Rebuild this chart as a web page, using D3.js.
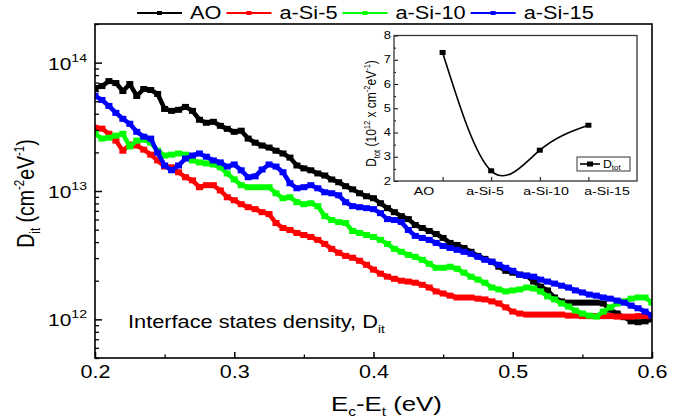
<!DOCTYPE html>
<html>
<head>
<meta charset="utf-8">
<script src="https://cdn.jsdelivr.net/npm/d3@7"></script>
<style>
  body { margin: 0; background: #fff; }
  svg text { font-family: "Liberation Sans", Arial, sans-serif; fill: #000; }
</style>
</head>
<body>
<div id="chart"></div>
<script>
// trap level below the conduction band, eV
var energy = [0.200, 0.205, 0.210, 0.215, 0.220, 0.225, 0.230, 0.235, 0.240, 0.245,
              0.250, 0.255, 0.260, 0.265, 0.270, 0.275, 0.280, 0.285, 0.290, 0.295,
              0.300, 0.305, 0.310, 0.315, 0.320, 0.325, 0.330, 0.335, 0.340, 0.345,
              0.350, 0.355, 0.360, 0.365, 0.370, 0.375, 0.380, 0.385, 0.390, 0.395,
              0.400, 0.405, 0.410, 0.415, 0.420, 0.425, 0.430, 0.435, 0.440, 0.445,
              0.450, 0.455, 0.460, 0.465, 0.470, 0.475, 0.480, 0.485, 0.490, 0.495,
              0.500, 0.505, 0.510, 0.515, 0.520, 0.525, 0.530, 0.535, 0.540, 0.545,
              0.550, 0.555, 0.560, 0.565, 0.570, 0.575, 0.580, 0.585, 0.590, 0.595, 0.600];

// D_it, in units of 1e12 cm^-2 eV^-1
var dAO = [63.4, 65.7, 71.8, 69.3, 60.1, 68.1, 55.0, 62.3, 61.2, 57.0,
           43.6, 42.1, 42.9, 45.2, 42.1, 35.9, 34.0, 34.6, 32.2, 30.5,
           28.9, 29.5, 25.6, 23.8, 22.6, 21.8, 20.6, 19.6, 18.2, 15.8,
           15.0, 14.5, 13.7, 13.2, 12.3, 11.7, 10.9, 10.3, 9.6, 9.1,
           8.78, 8.03, 7.35, 6.84, 6.37, 6.04, 5.43, 5.15, 4.88, 4.62,
           4.31, 3.94, 3.80, 3.60, 3.36, 3.12, 2.96, 2.81, 2.57, 2.39,
           2.31, 2.23, 2.19, 1.97, 1.80, 1.68, 1.48, 1.38, 1.35, 1.35,
           1.35, 1.35, 1.35, 1.33, 1.19, 1.11, 1.04, 0.965, 0.95, 0.965, 1.0];
var dSi5 = [31.1, 30.6, 27.9, 24.7, 20.6, 23.0, 22.6, 21.0, 19.2, 17.3,
            15.5, 15.3, 14.0, 12.8, 12.1, 10.7, 11.1, 11.1, 10.1, 8.94,
            8.47, 7.89, 7.48, 7.22, 6.84, 6.61, 5.63, 5.15, 4.97, 4.71,
            4.54, 4.38, 4.16, 3.87, 3.54, 3.30, 3.12, 3.02, 2.86, 2.66,
            2.44, 2.27, 2.15, 2.07, 2.00, 1.97, 1.93, 1.86, 1.77, 1.65,
            1.59, 1.53, 1.48, 1.48, 1.48, 1.45, 1.43, 1.38, 1.33, 1.24,
            1.15, 1.11, 1.09, 1.09, 1.09, 1.09, 1.09, 1.09, 1.07, 1.07,
            1.06, 1.06, 1.06, 1.06, 1.06, 1.05, 1.05, 1.05, 1.06, 1.06, 1.06];
var dSi10 = [27.9, 25.6, 26.0, 27.0, 27.9, 22.2, 24.7, 25.1, 23.8, 20.6,
             18.9, 19.2, 19.6, 19.2, 17.3, 16.7, 16.4, 16.1, 15.3, 13.7,
             12.3, 11.1, 10.7, 10.7, 10.7, 10.7, 9.6, 8.78, 8.94, 8.18,
             7.89, 8.03, 7.62, 6.37, 5.94, 5.73, 5.63, 4.88, 4.71, 4.54,
             4.38, 4.16, 3.87, 3.54, 3.36, 3.18, 3.07, 2.91, 2.71, 2.52,
             2.52, 2.57, 2.48, 2.31, 2.15, 2.04, 1.93, 1.77, 1.71, 1.65,
             1.68, 1.71, 1.77, 1.74, 1.65, 1.51, 1.43, 1.33, 1.26, 1.17,
             1.11, 1.07, 1.05, 1.15, 1.24, 1.33, 1.38, 1.45, 1.48, 1.48, 1.35];
var dSi15 = [55.0, 51.2, 46.0, 40.6, 36.5, 33.4, 28.9, 26.5, 25.6, 19.9,
             15.8, 14.5, 15.8, 17.9, 18.9, 19.6, 18.5, 17.3, 16.7, 15.5,
             16.1, 14.5, 12.8, 13.0, 14.7, 16.1, 15.5, 14.0, 11.5, 10.5,
             10.7, 11.1, 10.5, 9.77, 9.6, 9.26, 8.18, 7.62, 7.48, 7.35,
             7.22, 6.72, 6.04, 5.94, 5.73, 4.97, 4.47, 4.31, 4.16, 3.94,
             3.73, 3.60, 3.48, 3.36, 3.24, 3.07, 2.91, 2.81, 2.66, 2.52,
             2.39, 2.23, 2.19, 2.15, 2.04, 1.97, 1.90, 1.83, 1.77, 1.68,
             1.62, 1.56, 1.53, 1.48, 1.45, 1.40, 1.35, 1.28, 1.22, 1.15, 1.07];

var seriesNames = ['AO', 'a-Si-5', 'a-Si-10', 'a-Si-15'];
var seriesColors = ['#000000', '#ff0000', '#00ff00', '#0000ff'];

var xTicks = [0.2, 0.3, 0.4, 0.5, 0.6];
var xMinorTicks = [0.25, 0.35, 0.45, 0.55];
var yTicks = [1, 10, 100];
var yTickExps = ['12', '13', '14'];
var yMinorTicks = [0.5, 0.6, 0.7, 0.8, 0.9, 2, 3, 4, 5, 6, 7, 8, 9,
                   20, 30, 40, 50, 60, 70, 80, 90, 200];

// inset: total trap density, 1e12 cm^-2 eV^-1
var insetSamples = ['AO', 'a-Si-5', 'a-Si-10', 'a-Si-15'];
var insetDtot = [7.3, 2.42, 3.27, 4.3];
var insetYTicks = [2, 3, 4, 5, 6, 7, 8];
var insetYMinor = [2.5, 3.5, 4.5, 5.5, 6.5, 7.5];

var W = 681, H = 420;
var SX = 1.23;   // text in the figure is stretched sideways
var plot = {left: 95, right: 652, top: 24, bottom: 358};
var inset = {left: 394, right: 637, top: 35.5, bottom: 181};

var svg = d3.select('#chart').append('svg')
    .attr('width', W)
    .attr('height', H);
svg.append('rect').attr('width', W).attr('height', H).attr('fill', '#fff');

var x = d3.scaleLinear().domain([0.2, 0.6]).range([plot.left, plot.right]);
var y = d3.scaleLog().domain([0.5, 200]).range([plot.bottom, plot.top]);

function wideText(parent, px, py, size, anchor) {
    return parent.append('text')
        .attr('x', px / SX)
        .attr('y', py)
        .attr('transform', 'scale(' + SX + ',1)')
        .attr('font-size', size)
        .attr('text-anchor', anchor || 'start');
}

function piece(t, str, size, dy) {
    var s = t.append('tspan').text(str);
    if (size) s.attr('font-size', size);
    if (dy) s.attr('dy', dy);
    return s;
}

// curves
svg.append('clipPath').attr('id', 'plotClip')
    .append('rect')
    .attr('x', plot.left).attr('y', plot.top)
    .attr('width', plot.right - plot.left)
    .attr('height', plot.bottom - plot.top);

var series = [dAO, dSi5, dSi10, dSi15].map(function (vals, k) {
    return {name: seriesNames[k], color: seriesColors[k], values: vals};
});

var line = d3.line()
    .x(function (d, i) { return x(energy[i]); })
    .y(function (d) { return y(d); });

var curves = svg.append('g').attr('clip-path', 'url(#plotClip)');
series.forEach(function (s) {
    var g = curves.append('g');
    g.append('path')
        .datum(s.values)
        .attr('d', line)
        .attr('fill', 'none')
        .attr('stroke', s.color)
        .attr('stroke-width', 4.5)
        .attr('stroke-linejoin', 'round');
    g.selectAll('rect')
        .data(s.values)
        .enter().append('rect')
        .attr('x', function (d, i) { return x(energy[i]) - 3.5; })
        .attr('y', function (d) { return y(d) - 3; })
        .attr('width', 7)
        .attr('height', 6)
        .attr('fill', s.color);
});

// axes, ticks pointing inward
function tidy(g, w) {
    g.select('.domain').remove();
    g.selectAll('.tick line').attr('stroke', '#000').attr('stroke-width', w);
}

var gx = svg.append('g')
    .attr('transform', 'translate(0,' + plot.bottom + ')')
    .call(d3.axisBottom(x).tickValues(xTicks).tickSize(-6).tickSizeOuter(0)
        .tickPadding(8).tickFormat(d3.format('.1f')));
tidy(gx, 1.5);
gx.selectAll('text')
    .attr('font-size', 17.5)
    .attr('fill', '#000')
    .attr('transform', 'scale(' + SX + ',1)');

var gxm = svg.append('g')
    .attr('transform', 'translate(0,' + plot.bottom + ')')
    .call(d3.axisBottom(x).tickValues(xMinorTicks).tickSize(-3.5).tickFormat(''));
tidy(gxm, 1.3);

var gy = svg.append('g')
    .attr('transform', 'translate(' + plot.left + ',0)')
    .call(d3.axisLeft(y).tickValues(yTicks).tickSize(-7).tickFormat(''));
tidy(gy, 1.5);
var gym = svg.append('g')
    .attr('transform', 'translate(' + plot.left + ',0)')
    .call(d3.axisLeft(y).tickValues(yMinorTicks).tickSize(-4).tickFormat(''));
tidy(gym, 1.3);

yTicks.forEach(function (v, k) {
    var t = wideText(svg, plot.left - 8, y(v) + 7, 17, 'end');
    piece(t, '10');
    piece(t, yTickExps[k], 11.5, -8);
});

svg.append('rect')
    .attr('x', plot.left).attr('y', plot.top)
    .attr('width', plot.right - plot.left)
    .attr('height', plot.bottom - plot.top)
    .attr('fill', 'none')
    .attr('stroke', '#000')
    .attr('stroke-width', 1.6);

// axis titles
var xt = wideText(svg, 331, 411, 21, 'start');
piece(xt, 'E');
piece(xt, 'c', 12.5, 5);
piece(xt, '-E', null, -5);
piece(xt, 't', 12.5, 5);
piece(xt, ' (eV)', null, -5);

var yt = svg.append('text')
    .attr('transform', 'translate(34,193.5) rotate(-90) scale(1,' + SX + ')')
    .attr('text-anchor', 'middle')
    .attr('font-size', 19.5);
piece(yt, 'D');
piece(yt, 'it', 11.5, 5);
piece(yt, ' (cm', null, -5);
piece(yt, '-2', 11.5, -8);
piece(yt, 'eV', null, 8);
piece(yt, '-1', 11.5, -8);
piece(yt, ')', null, 8);

// note
var note = wideText(svg, 128, 328, 17.7, 'start');
piece(note, 'Interface states density, D');
piece(note, 'it', 11, 5);

// legend on top
var legend = svg.append('g');
var lx = 137;
series.forEach(function (s) {
    legend.append('line')
        .attr('x1', lx).attr('x2', lx + 45)
        .attr('y1', 13).attr('y2', 13)
        .attr('stroke', s.color)
        .attr('stroke-width', 2.2);
    legend.append('rect')
        .attr('x', lx + 22.5 - 2.5).attr('y', 11)
        .attr('width', 5).attr('height', 4)
        .attr('fill', s.color);
    var t = wideText(legend, lx + 53, 19.5, 17.7, 'start').text(s.name);
    lx = lx + 53 + t.node().getComputedTextLength() * SX + 5;
});

// inset
var ix = d3.scalePoint().domain(insetSamples).range([inset.left, inset.right]).padding(1);
var ixLabel = d3.scalePoint().domain(insetSamples).range([424, 607]);
var iy = d3.scaleLinear().domain([2, 8]).range([inset.bottom, inset.top]);

svg.append('rect')
    .attr('x', inset.left).attr('y', inset.top)
    .attr('width', inset.right - inset.left)
    .attr('height', inset.bottom - inset.top)
    .attr('fill', '#fff');

var giy = svg.append('g')
    .attr('transform', 'translate(' + inset.left + ',0)')
    .call(d3.axisLeft(iy).tickValues(insetYTicks).tickSize(-4).tickFormat(''));
tidy(giy, 1);
var giym = svg.append('g')
    .attr('transform', 'translate(' + inset.left + ',0)')
    .call(d3.axisLeft(iy).tickValues(insetYMinor).tickSize(-2).tickFormat(''));
tidy(giym, 1);
var gix = svg.append('g')
    .attr('transform', 'translate(0,' + inset.bottom + ')')
    .call(d3.axisBottom(ix).tickSize(-4).tickFormat(''));
tidy(gix, 1);

insetYTicks.forEach(function (v) {
    wideText(svg, inset.left - 3, iy(v) + 3.7, 10.5, 'end').text(v);
});
insetSamples.forEach(function (s) {
    wideText(svg, ixLabel(s), 195, 11.5, 'middle').text(s);
});

var insetLine = d3.line()
    .x(function (d, i) { return ix(insetSamples[i]); })
    .y(function (d) { return iy(d); })
    .curve(d3.curveNatural);
svg.append('path')
    .datum(insetDtot)
    .attr('d', insetLine)
    .attr('fill', 'none')
    .attr('stroke', '#000')
    .attr('stroke-width', 1.6);
svg.append('g').selectAll('rect')
    .data(insetDtot)
    .enter().append('rect')
    .attr('x', function (d, i) { return ix(insetSamples[i]) - 3; })
    .attr('y', function (d) { return iy(d) - 2.5; })
    .attr('width', 6)
    .attr('height', 5)
    .attr('fill', '#000');

svg.append('rect')
    .attr('x', inset.left).attr('y', inset.top)
    .attr('width', inset.right - inset.left)
    .attr('height', inset.bottom - inset.top)
    .attr('fill', 'none')
    .attr('stroke', '#333')
    .attr('stroke-width', 1.3);

var it = svg.append('text')
    .attr('transform', 'translate(376,113.5) rotate(-90) scale(1,' + SX + ')')
    .attr('text-anchor', 'middle')
    .attr('font-size', 12);
piece(it, 'D');
piece(it, 'tot', 7.5, 3);
piece(it, ' (10', null, -3);
piece(it, '12', 7.5, -5);
piece(it, ' x cm', null, 5);
piece(it, '-2', 7.5, -5);
piece(it, 'eV', null, 5);
piece(it, '-1', 7.5, -5);
piece(it, ')', null, 5);

// inset legend
svg.append('rect')
    .attr('x', 577).attr('y', 157)
    .attr('width', 53).attr('height', 14)
    .attr('fill', '#fff')
    .attr('stroke', '#555')
    .attr('stroke-width', 1.2);
svg.append('line')
    .attr('x1', 580).attr('x2', 600)
    .attr('y1', 164).attr('y2', 164)
    .attr('stroke', '#000').attr('stroke-width', 1.6);
svg.append('rect')
    .attr('x', 587).attr('y', 161.5)
    .attr('width', 6).attr('height', 5)
    .attr('fill', '#000');
var lt = wideText(svg, 603, 168, 10, 'start');
piece(lt, 'D');
piece(lt, 'tot', 6.5, 2.5);
</script>
</body>
</html>
